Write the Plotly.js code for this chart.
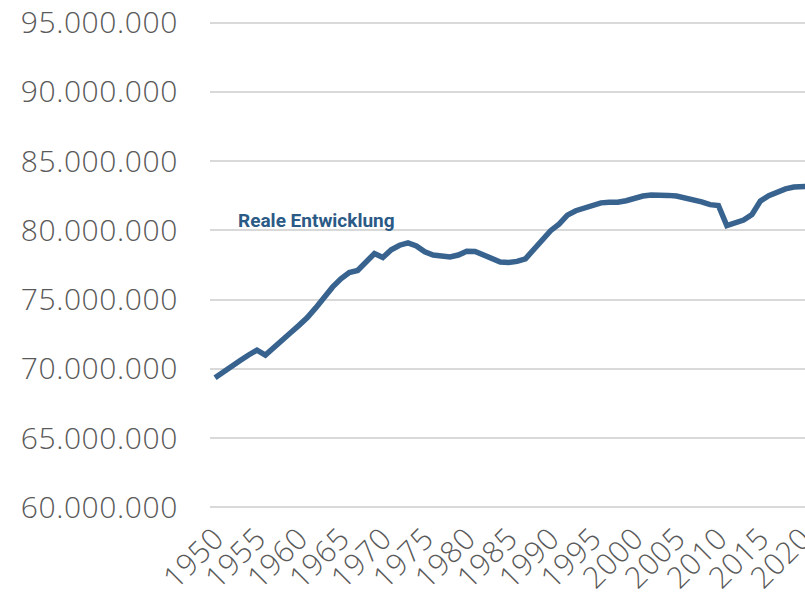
<!DOCTYPE html>
<html>
<head>
<meta charset="utf-8">
<script src="https://cdn.plot.ly/plotly-3.0.1.min.js"></script>
<style>
  html, body { margin: 0; padding: 0; background: #ffffff; }
  #chart { width: 805px; height: 598px; }
  .ytick text { letter-spacing: 0.6px; }
  .xtick text { letter-spacing: 0.4px; }
</style>
</head>
<body>
<div id="chart"></div>
<script>
// Years (x) and population (y)
const years = [
  1950, 1951, 1952, 1953, 1954, 1955, 1956, 1957, 1958, 1959,
  1960, 1961, 1962, 1963, 1964, 1965, 1966, 1967, 1968, 1969,
  1970, 1971, 1972, 1973, 1974, 1975, 1976, 1977, 1978, 1979,
  1980, 1981, 1982, 1983, 1984, 1985, 1986, 1987, 1988, 1989,
  1990, 1991, 1992, 1993, 1994, 1995, 1996, 1997, 1998, 1999,
  2000, 2001, 2002, 2003, 2004, 2005, 2006, 2007, 2008, 2009,
  2010, 2011, 2012, 2013, 2014, 2015, 2016, 2017, 2018, 2019,
  2020, 2021
];
const population = [
  69350000, 69800000, 70200000, 70600000, 71000000, 71350000, 70990000, 71570000, 72090000, 72610000,
  73140000, 73700000, 74400000, 75200000, 75900000, 76500000, 76950000, 77100000, 77700000, 78330000,
  78040000, 78600000, 78930000, 79100000, 78880000, 78450000, 78220000, 78100000, 78080000, 78220000,
  78490000, 78480000, 78250000, 77980000, 77720000, 77680000, 77760000, 77950000, 78600000, 79300000,
  79980000, 80450000, 81100000, 81420000, 81640000, 81850000, 81990000, 82030000, 82030000, 82140000,
  82320000, 82480000, 82560000, 82580000, 82530000, 82480000, 82370000, 82220000, 82060000, 81860000,
  81800000, 80350000, 80550000, 80750000, 81150000, 82120000, 82500000, 82780000, 83000000, 83130000,
  83140000, 83200000
];
const xTickVals = [1950, 1955, 1960, 1965, 1970, 1975, 1980, 1985, 1990, 1995, 2000, 2005, 2010, 2015, 2020];
const yTickVals = [60000000, 65000000, 70000000, 75000000, 80000000, 85000000, 90000000, 95000000];
const seriesLabel = "Reale Entwicklung";
const labelYear = 1952.55;
const labelValue = 80700000;

const trace = {
  x: years,
  y: population,
  type: 'scatter',
  mode: 'lines',
  line: { color: '#38638f', width: 5.5, shape: 'linear' },
  hoverinfo: 'skip',
  showlegend: false
};

const tickFont = { family: 'Open Sans, sans-serif', size: 30, weight: 300, color: '#595959' };

const layout = {
  width: 805,
  height: 598,
  margin: { l: 210, r: 0, t: 20, b: 88, pad: 0 },
  paper_bgcolor: '#ffffff',
  plot_bgcolor: '#ffffff',
  separators: ',.',
  showlegend: false,
  xaxis: {
    range: [1949.4, 2020.32],
    tickmode: 'array',
    tickvals: xTickVals,
    ticktext: xTickVals.map(String),
    tickangle: -45,
    showgrid: false,
    zeroline: false,
    showline: false,
    ticks: '',
    ticklabelstandoff: 4,
    ticklabeloverflow: 'allow',
    tickfont: tickFont,
    fixedrange: true
  },
  yaxis: {
    range: [59800000, 95200000],
    tickmode: 'array',
    tickvals: yTickVals,
    tickformat: ',d',
    showgrid: true,
    gridcolor: '#d9d9d9',
    gridwidth: 2,
    zeroline: false,
    showline: false,
    ticks: '',
    ticklabelstandoff: 31,
    tickfont: tickFont,
    fixedrange: true
  },
  annotations: [{
    x: labelYear,
    y: labelValue,
    xref: 'x',
    yref: 'y',
    text: '<b>' + seriesLabel + '</b>',
    showarrow: false,
    xanchor: 'left',
    yanchor: 'middle',
    font: { family: 'Roboto, sans-serif', size: 19, color: '#2b5a86' }
  }]
};

Plotly.newPlot('chart', [trace], layout, { staticPlot: true, displayModeBar: false });
</script>
</body>
</html>
